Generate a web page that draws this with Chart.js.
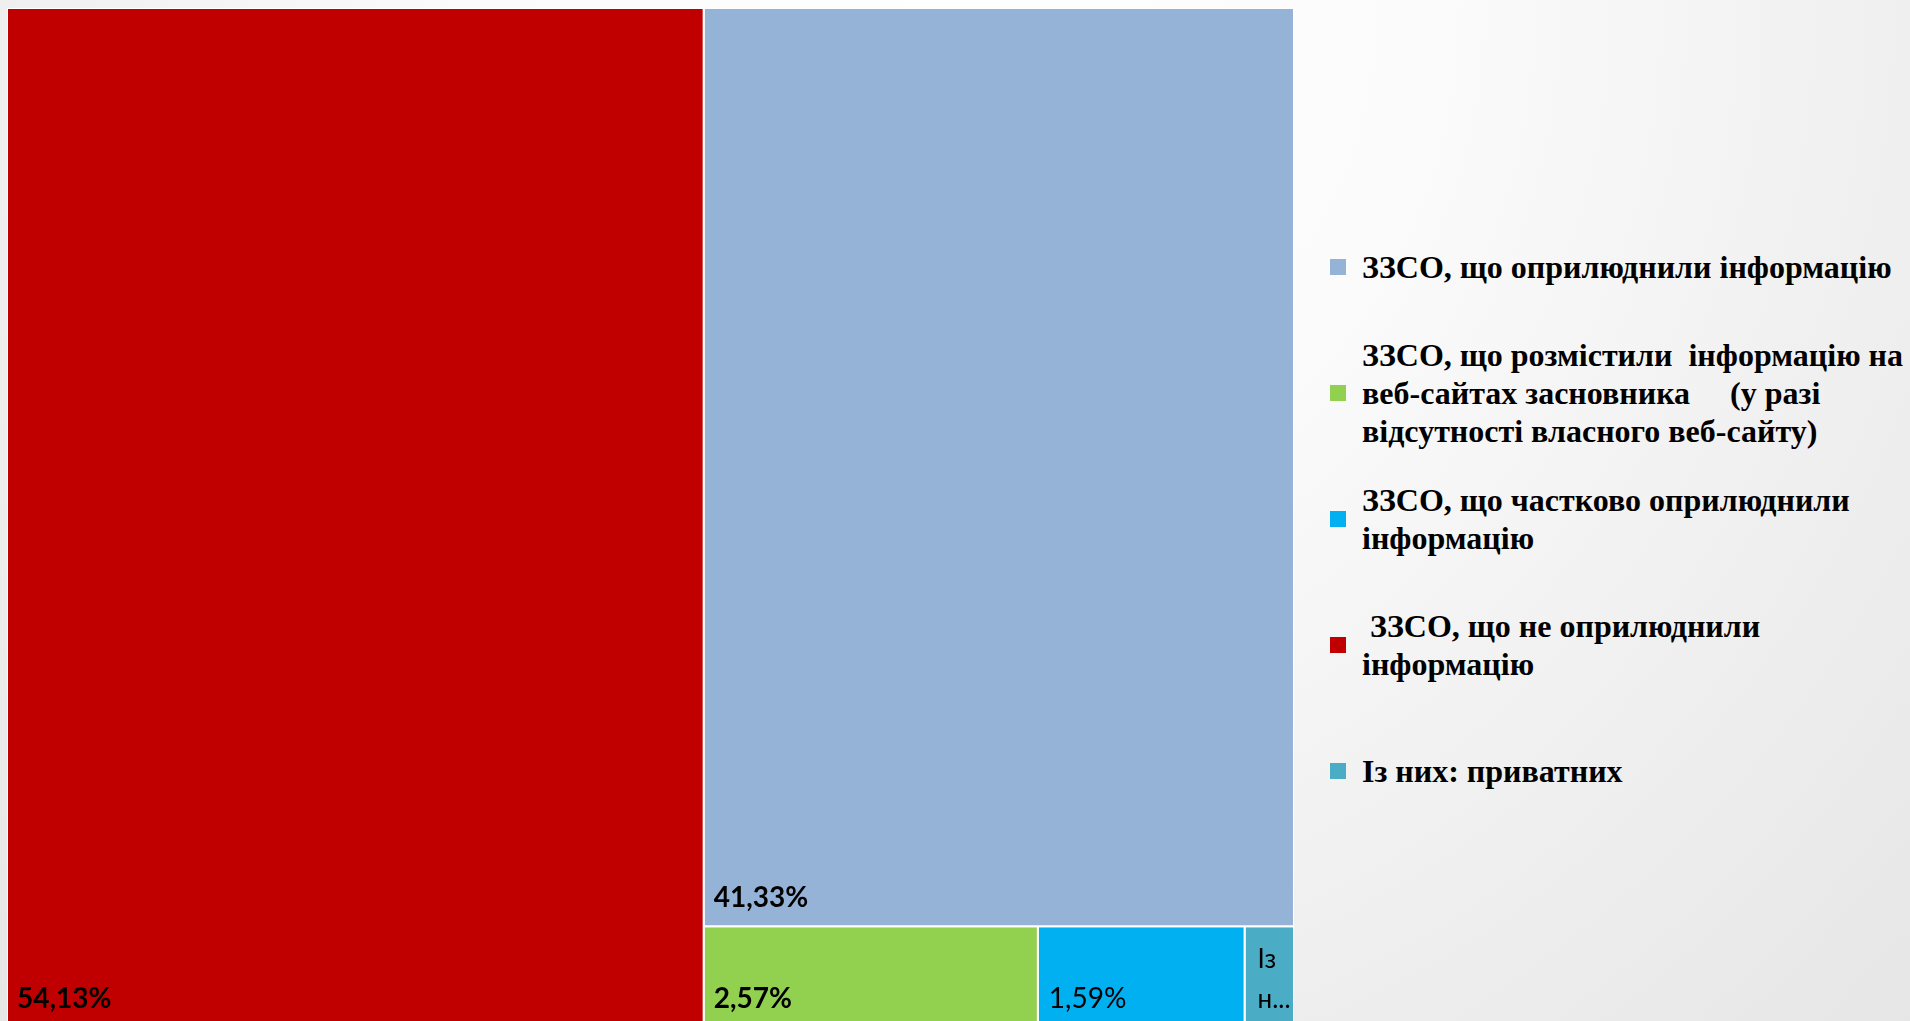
<!DOCTYPE html>
<html>
<head>
<meta charset="utf-8">
<script src="https://cdn.jsdelivr.net/npm/chart.js@4.4.1/dist/chart.umd.min.js"></script>
<style>
html, body { margin: 0; padding: 0; width: 1910px; height: 1021px; overflow: hidden; }
body {
  position: relative;
  background: radial-gradient(ellipse farthest-corner at 50% 0%, #ffffff 0%, #fbfbfb 35%, #f1f1f1 65%, #e6e6e6 100%);
}
#wrap { position: absolute; left: 0; top: 0; width: 1300px; height: 1030px; }
#legend { position: absolute; left: 1330px; top: 0; width: 580px; height: 1021px; }
.item { position: absolute; left: 0; display: flex; align-items: center; transform: translateY(-50%); }
.box { width: 16px; height: 16px; flex: none; margin-right: 16px; }
.txt { font-family: 'Liberation Serif', 'Times New Roman', serif; font-weight: bold; font-size: 32px; line-height: 38px; color: #000; white-space: pre; }
</style>
</head>
<body>
<div id="wrap"><canvas id="c" width="1300" height="1030"></canvas></div>
<div id="legend"></div>
<script>
// ---- data (legend order) ----
const categories = [
  'ЗЗСО, що оприлюднили інформацію',
  'ЗЗСО, що розмістили  інформацію на\nвеб-сайтах засновника     (у разі\nвідсутності власного веб-сайту)',
  'ЗЗСО, що частково оприлюднили\nінформацію',
  ' ЗЗСО, що не оприлюднили\nінформацію',
  'Із них: приватних'
];
const values = [41.33, 2.57, 1.59, 54.13, 0.38];
const dataLabels = ['41,33%', '2,57%', '1,59%', '54,13%', 'Із них: приватних'];
const colors = ['#95B3D7', '#92D050', '#00B0F0', '#C00000', '#4BACC6'];
const labelBold = [true, true, false, true, false];

// ---- squarified treemap layout (computed from values) ----
const AR = 1287 / 1019; // plot aspect ratio
function worst(row, side) {
  const s = row.reduce((a, b) => a + b, 0);
  const mx = Math.max(...row), mn = Math.min(...row);
  return Math.max(side * side * mx / (s * s), (s * s) / (side * side * mn));
}
function squarify(vals, x, y, w, h) {
  const total = vals.reduce((a, b) => a + b, 0);
  const k = w * h / total;
  const areas = vals.map(v => v * k);
  const rects = [];
  let i = 0, rx = x, ry = y, rw = w, rh = h;
  while (i < areas.length) {
    const side = Math.min(rw, rh);
    let row = [areas[i]], j = i + 1;
    while (j < areas.length) {
      const next = row.concat(areas[j]);
      if (worst(next, side) <= worst(row, side)) { row = next; j++; } else break;
    }
    const sum = row.reduce((a, b) => a + b, 0);
    if (rw >= rh) {
      const cw = sum / rh; let cy = ry;
      row.forEach(a => { const hh = a / cw; rects.push({ x0: rx, y0: cy, x1: rx + cw, y1: cy + hh }); cy += hh; });
      rx += cw; rw -= cw;
    } else {
      const ch = sum / rw; let cx = rx;
      row.forEach(a => { const ww = a / ch; rects.push({ x0: cx, y0: ry, x1: cx + ww, y1: ry + ch }); cx += ww; });
      ry += ch; rh -= ch;
    }
    i = j;
  }
  return rects;
}
const order = values.map((v, i) => i).sort((a, b) => values[b] - values[a]);
const rectsSorted = squarify(order.map(i => values[i]), 0, 0, AR, 1);
const rects = [];
order.forEach((idx, k) => {
  const r = rectsSorted[k];
  rects[idx] = { x0: r.x0 / AR * 100, x1: r.x1 / AR * 100, y0: r.y0 * 100, y1: r.y1 * 100 };
});

const datasets = order.map(idx => {
  const r = rects[idx];
  return {
    label: categories[idx],
    data: [
      { x: r.x0, y: r.y0 }, { x: r.x1, y: r.y0 }, { x: r.x1, y: r.y1 },
      { x: r.x0, y: r.y1 }, { x: r.x0, y: r.y0 }
    ],
    showLine: true,
    fill: 'shape',
    backgroundColor: colors[idx],
    borderColor: '#ffffff',
    borderWidth: 2,
    pointRadius: 0,
    tension: 0,
    labelText: dataLabels[idx],
    labelBold: labelBold[idx]
  };
});

// ---- labels drawn at bottom-left of each tile ----
const tileLabels = {
  id: 'tileLabels',
  afterDatasetsDraw(chart) {
    const ctx = chart.ctx;
    const xs = chart.scales.x, ys = chart.scales.y;
    chart.data.datasets.forEach(ds => {
      const d = ds.data;
      const left = xs.getPixelForValue(d[0].x), right = xs.getPixelForValue(d[1].x);
      const bottom = ys.getPixelForValue(d[2].y);
      const w = right - left;
      ctx.save();
      ctx.fillStyle = '#000';
      ctx.textBaseline = 'alphabetic';
      ctx.textAlign = 'left';
      if (ds.labelBold) {
        ctx.font = 'bold 28px Lato, "Open Sans", sans-serif';
        ctx.fillText(ds.labelText, left + 10, bottom - 19);
      } else {
        const size = w < 100 ? 26 : 28;
        ctx.font = size + 'px Lato, "Open Sans", sans-serif';
        const pad = w < 100 ? 13 : 11;
        const avail = w - pad + 2;
        // wrap words; truncate with ellipsis
        const words = ds.labelText.split(' ');
        let lines = [];
        if (ctx.measureText(ds.labelText).width <= avail) {
          lines = [ds.labelText];
        } else {
          lines.push(words[0]);
          let rest = words.slice(1).join(' ');
          let t = rest;
          while (t.length > 1 && ctx.measureText(t + '...').width > avail) t = t.slice(0, -1);
          lines.push(t + '...');
        }
        const lh = 40;
        lines.forEach((ln, k) => {
          ctx.fillText(ln, left + pad, bottom - 19 - (lines.length - 1 - k) * lh);
        });
      }
      ctx.restore();
    });
  }
};

new Chart(document.getElementById('c'), {
  type: 'scatter',
  data: { datasets },
  options: {
    responsive: false,
    animation: false,
    layout: { padding: { left: 7, top: 8, right: 6, bottom: 3 } },
    scales: {
      x: { type: 'linear', min: 0, max: 100, display: false },
      y: { type: 'linear', min: 0, max: 100, reverse: true, display: false }
    },
    plugins: {
      legend: { display: false },
      tooltip: { enabled: false }
    }
  },
  plugins: [tileLabels]
});

// ---- legend ----
const legend = document.getElementById('legend');
categories.forEach((cat, i) => {
  const it = document.createElement('div');
  it.className = 'item';
  it.style.top = (267 + 126 * i) + 'px';
  const box = document.createElement('div');
  box.className = 'box';
  box.style.background = colors[i];
  const txt = document.createElement('div');
  txt.className = 'txt';
  txt.textContent = cat;
  it.appendChild(box);
  it.appendChild(txt);
  legend.appendChild(it);
});
</script>
</body>
</html>
